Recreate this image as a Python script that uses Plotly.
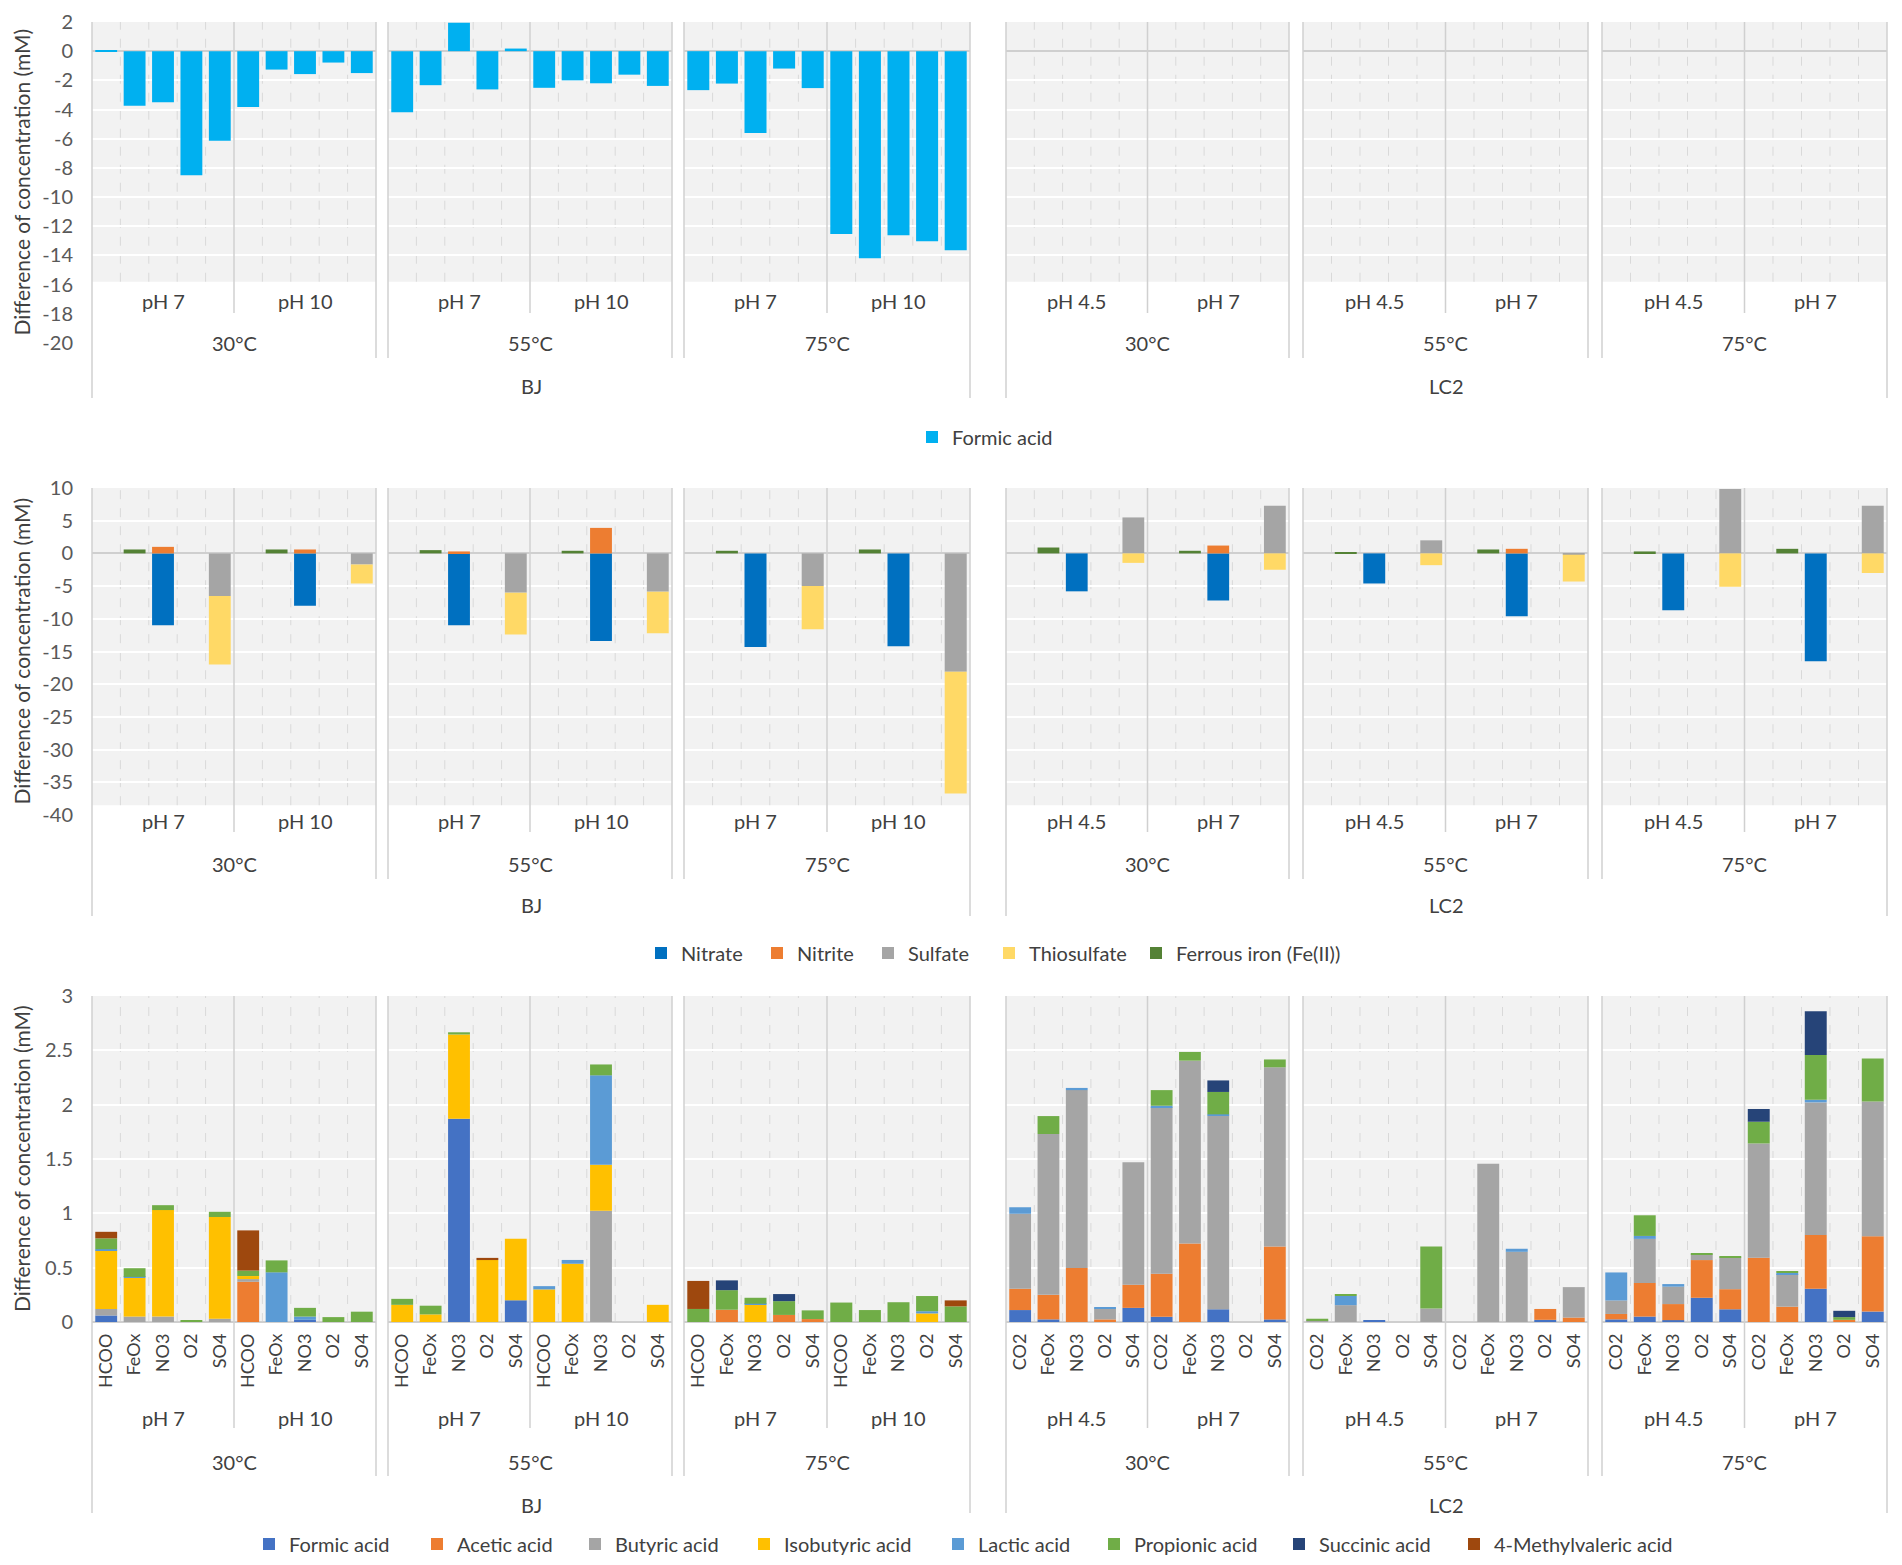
import plotly.graph_objects as go

W, H = 1902, 1565
FONT = "Lato"
TXT = "#404040"

temps = ["30°C", "55°C", "75°C"]
sites = ["BJ", "LC2"]
ph_levels = {"BJ": ["pH 7", "pH 10"], "LC2": ["pH 4.5", "pH 7"]}
treatments = {"BJ": ["HCOO", "FeOx", "NO3", "O2", "SO4"],
              "LC2": ["CO2", "FeOx", "NO3", "O2", "SO4"]}

top_ticks = [2, 0, -2, -4, -6, -8, -10, -12, -14, -16, -18, -20]
mid_ticks = [10, 5, 0, -5, -10, -15, -20, -25, -30, -35, -40]
bot_ticks = [0, 0.5, 1, 1.5, 2, 2.5, 3]

# each list: 30°C, 55°C, 75°C; inside each: 2 pH x 5 treatments
# --- top panel: formic acid
formic_top_BJ = [0.05, -3.74, -3.5, -8.5, -6.14, -3.83, -1.26, -1.57, -0.78, -1.5,
                 -4.19, -2.33, 1.95, -2.62, 0.18, -2.51, -2.0, -2.2, -1.61, -2.38,
                 -2.67, -2.22, -5.6, -1.19, -2.53, -12.53, -14.19, -12.62, -13.03, -13.65]
formic_top_LC2 = [None] * 30  # no formate measured for LC2

# --- middle panel: electron acceptors
nitrate_BJ = [None, None, -11.0, None, None, None, None, -8.0, None, None,
              None, None, -11.0, None, None, None, None, -13.4, None, None,
              None, None, -14.3, None, None, None, None, -14.2, None, None]
nitrite_BJ = [None, None, 1.0, None, None, None, None, 0.6, None, None,
              None, None, 0.3, None, None, None, None, 3.9, None, None,
              None, None, None, None, None, None, None, None, None, None]
sulfate_BJ = [None, None, None, None, -6.5, None, None, None, None, -1.7,
              None, None, None, None, -6.0, None, None, None, None, -5.85,
              None, None, None, None, -5.0, None, None, None, None, -18.1]
thiosulfate_BJ = [None, None, None, None, -10.5, None, None, None, None, -2.9,
                  None, None, None, None, -6.4, None, None, None, None, -6.35,
                  None, None, None, None, -6.6, None, None, None, None, -18.6]
ferrous_BJ = [None, 0.6, None, None, None, None, 0.6, None, None, None,
              None, 0.5, None, None, None, None, 0.4, None, None, None,
              None, 0.4, None, None, None, None, 0.6, None, None, None]

nitrate_LC2 = [None, None, -5.8, None, None, None, None, -7.2, None, None,
               None, None, -4.6, None, None, None, None, -9.6, None, None,
               None, None, -8.7, None, None, None, None, -16.5, None, None]
nitrite_LC2 = [None, None, None, None, None, None, None, 1.2, None, None,
               None, None, None, None, None, None, None, 0.7, None, None,
               None, None, None, None, None, None, None, None, None, None]
sulfate_LC2 = [None, None, None, None, 5.5, None, None, None, None, 7.3,
               None, None, None, None, 2.0, None, None, None, None, -0.2,
               None, None, None, None, 9.85, None, None, None, None, 7.3]
thiosulfate_LC2 = [None, None, None, None, -1.45, None, None, None, None, -2.5,
                   None, None, None, None, -1.8, None, None, None, None, -4.1,
                   None, None, None, None, -5.1, None, None, None, None, -3.0]
ferrous_LC2 = [None, 0.9, None, None, None, None, 0.4, None, None, None,
               None, 0.2, None, None, None, None, 0.6, None, None, None,
               None, 0.3, None, None, None, None, 0.7, None, None, None]

# --- bottom panel: organic acids produced
formic_BJ = [0.06, 0, 0, 0, 0, 0, 0, 0.02, 0, 0,
             0, 0, 1.87, 0, 0.20, 0, 0, 0, 0, 0,
             0, 0, 0, 0, 0, 0, 0, 0, 0, 0]
acetic_BJ = [0, 0, 0, 0, 0, 0.37, 0, 0, 0, 0,
             0, 0, 0, 0, 0, 0, 0, 0, 0, 0,
             0, 0.113, 0, 0.065, 0.027, 0, 0, 0, 0, 0]
butyric_BJ = [0.06, 0.05, 0.05, 0, 0.03, 0.025, 0, 0, 0, 0,
              0, 0, 0, 0, 0, 0, 0, 1.024, 0, 0,
              0, 0, 0, 0, 0, 0, 0, 0, 0, 0]
isobutyric_BJ = [0.54, 0.355, 0.98, 0, 0.936, 0.028, 0, 0, 0, 0,
                 0.158, 0.07, 0.776, 0.57, 0.566, 0.30, 0.536, 0.423, 0, 0.158,
                 0, 0, 0.158, 0, 0, 0, 0, 0, 0.079, 0]
lactic_BJ = [0.01, 0.01, 0, 0, 0, 0, 0.457, 0.03, 0, 0,
             0, 0, 0, 0, 0, 0.03, 0.035, 0.823, 0, 0,
             0, 0, 0.01, 0, 0, 0, 0, 0, 0.02, 0]
propionic_BJ = [0.10, 0.08, 0.045, 0.015, 0.048, 0.05, 0.11, 0.08, 0.045, 0.095,
                0.055, 0.08, 0.02, 0, 0, 0, 0, 0.10, 0, 0,
                0.12, 0.18, 0.055, 0.127, 0.08, 0.179, 0.11, 0.182, 0.14, 0.144]
succinic_BJ = [0, 0, 0, 0, 0, 0, 0, 0, 0, 0,
               0, 0, 0, 0, 0, 0, 0, 0, 0, 0,
               0, 0.09, 0, 0.065, 0, 0, 0, 0, 0, 0]
methylvaleric_BJ = [0.06, 0, 0, 0, 0, 0.37, 0, 0, 0, 0,
                    0, 0, 0, 0.02, 0, 0, 0, 0, 0, 0,
                    0.258, 0, 0, 0, 0, 0, 0, 0, 0, 0.055]

formic_LC2 = [0.11, 0.024, 0, 0, 0.13, 0.048, 0, 0.117, 0, 0.024,
              0, 0, 0.01, 0, 0, 0, 0, 0, 0.02, 0,
              0.024, 0.05, 0.017, 0.223, 0.117, 0, 0, 0.306, 0, 0.096]
acetic_LC2 = [0.196, 0.226, 0.498, 0.024, 0.213, 0.395, 0.722, 0, 0, 0.67,
              0, 0, 0, 0, 0, 0, 0, 0, 0.10, 0.041,
              0.05, 0.31, 0.148, 0.347, 0.185, 0.591, 0.141, 0.495, 0.02, 0.694]
butyric_LC2 = [0.69, 1.48, 1.636, 0.10, 1.127, 1.533, 1.683, 1.78, 0, 1.65,
               0.01, 0.155, 0, 0, 0.124, 0, 1.457, 0.646, 0, 0.28,
               0.124, 0.405, 0.16, 0.052, 0.292, 1.052, 0.30, 1.22, 0, 1.24]
isobutyric_LC2 = [0, 0, 0, 0, 0, 0, 0, 0, 0, 0,
                  0, 0, 0, 0, 0, 0, 0, 0, 0, 0,
                  0, 0, 0, 0, 0, 0, 0, 0, 0, 0]
lactic_LC2 = [0.06, 0, 0.02, 0.01, 0, 0.014, 0, 0.014, 0, 0,
              0, 0.085, 0, 0, 0, 0, 0, 0.028, 0, 0,
              0.258, 0.027, 0.024, 0, 0, 0, 0.01, 0.024, 0, 0]
propionic_LC2 = [0, 0.165, 0, 0, 0, 0.144, 0.08, 0.206, 0, 0.072,
                 0.02, 0.01, 0, 0, 0.57, 0, 0, 0, 0, 0,
                 0, 0.19, 0, 0.01, 0.005, 0.20, 0.014, 0.412, 0.025, 0.395]
succinic_LC2 = [0, 0, 0, 0, 0, 0, 0, 0.106, 0, 0,
                0, 0, 0, 0, 0, 0, 0, 0, 0, 0,
                0, 0, 0, 0, 0, 0.117, 0, 0.402, 0.058, 0]
methylvaleric_LC2 = [0, 0, 0, 0, 0, 0, 0, 0, 0, 0,
                     0, 0, 0, 0, 0, 0, 0, 0, 0, 0,
                     0, 0, 0, 0, 0, 0, 0, 0, 0, 0]

row_series = [
    [("Formic acid", "#00B0F0", {"BJ": formic_top_BJ, "LC2": formic_top_LC2})],
    [("Nitrate", "#0070C0", {"BJ": nitrate_BJ, "LC2": nitrate_LC2}),
     ("Nitrite", "#ED7D31", {"BJ": nitrite_BJ, "LC2": nitrite_LC2}),
     ("Sulfate", "#A5A5A5", {"BJ": sulfate_BJ, "LC2": sulfate_LC2}),
     ("Thiosulfate", "#FFD966", {"BJ": thiosulfate_BJ, "LC2": thiosulfate_LC2}),
     ("Ferrous iron (Fe(II))", "#548235", {"BJ": ferrous_BJ, "LC2": ferrous_LC2})],
    [("Formic acid", "#4472C4", {"BJ": formic_BJ, "LC2": formic_LC2}),
     ("Acetic acid", "#ED7D31", {"BJ": acetic_BJ, "LC2": acetic_LC2}),
     ("Butyric acid", "#A5A5A5", {"BJ": butyric_BJ, "LC2": butyric_LC2}),
     ("Isobutyric acid", "#FFC000", {"BJ": isobutyric_BJ, "LC2": isobutyric_LC2}),
     ("Lactic acid", "#5B9BD5", {"BJ": lactic_BJ, "LC2": lactic_LC2}),
     ("Propionic acid", "#70AD47", {"BJ": propionic_BJ, "LC2": propionic_LC2}),
     ("Succinic acid", "#264478", {"BJ": succinic_BJ, "LC2": succinic_LC2}),
     ("4-Methylvaleric acid", "#9E480E", {"BJ": methylvaleric_BJ, "LC2": methylvaleric_LC2})],
]

# pixel geometry of the three panels (target image pixels)
row_geo = [
    dict(top=22, bottom=343, rng=[-20, 2], gray0=-15.8, ticks=top_ticks,
         ph=301, temp=343, site=386, ph_end=313, edge_end=358, site_end=398,
         legend_y=437, legend_x=[930]),
    dict(top=488, bottom=815, rng=[-40, 10], gray0=-38.5, ticks=mid_ticks,
         ph=821, temp=864, site=905, ph_end=832, edge_end=879, site_end=916,
         legend_y=953, legend_x=[659, 775, 886, 1007, 1154]),
    dict(top=996, bottom=1322, rng=[0, 3], gray0=0, ticks=bot_ticks,
         ph=1418, temp=1462, site=1505, ph_end=1428, edge_end=1476, site_end=1513,
         legend_y=1544, legend_x=[267, 435, 593, 762, 956, 1112, 1297, 1472]),
]
group_x = [(92, 376), (388, 672), (684, 970), (1006, 1289), (1303, 1588), (1602, 1887)]
PAGE = 8  # body margin of the html page


def fx(p):
    return (p - PAGE) / W


def fy(p):
    return 1 - (p - PAGE) / H


def label(x, y, text, size=20, angle=0):
    return dict(x=fx(x), y=fy(y), xref="paper", yref="paper", text=text,
                showarrow=False, xanchor="center", yanchor="middle", textangle=angle,
                font=dict(size=size, color=TXT, family=FONT))


fig = go.Figure()
shapes = []
annotations = []
legends = {}
line_col = "#d0d0d0"
leg_count = 0

for r, (geo, series) in enumerate(zip(row_geo, row_series)):
    yname = "y" if r == 0 else f"y{r + 1}"
    legnames = []
    for i, lx in enumerate(geo["legend_x"]):
        leg_count += 1
        lname = "legend" if leg_count == 1 else f"legend{leg_count}"
        legnames.append(lname)
        legends[lname] = dict(orientation="h", x=fx(lx - 18), y=fy(geo["legend_y"]),
                              xanchor="left", yanchor="middle", itemwidth=30,
                              bgcolor="rgba(0,0,0,0)", borderwidth=0,
                              font=dict(size=20, color=TXT, family=FONT))
    for g in range(6):
        n = r * 6 + g + 1
        xname = "x" if n == 1 else f"x{n}"
        site = sites[g // 3]
        t = g % 3
        cats = [f"{p} {c}" for p in ph_levels[site] for c in treatments[site]]
        for k, (name, color, data) in enumerate(series):
            vals = data[site][t * 10:(t + 1) * 10]
            fig.add_trace(go.Bar(
                x=cats, y=vals, name=name, marker_color=color, marker_line_width=0,
                xaxis=xname, yaxis=yname, legend=legnames[k], legendgroup=f"{r}-{name}",
                showlegend=(g == 0), hoverinfo="skip"))

        x0, x1 = group_x[g]
        fig.update_layout(**{("xaxis" if n == 1 else f"xaxis{n}"): dict(
            domain=[fx(x0), fx(x1)], anchor=yname, type="category",
            categoryorder="array", categoryarray=cats, range=[-0.5, 9.5],
            showgrid=False, zeroline=False, showline=False, ticks="", automargin=False,
            showticklabels=(r == 2), tickvals=cats, ticktext=treatments[site] * 2,
            tickangle=-90, ticklabelstandoff=7,
            tickfont=dict(size=18, color=TXT, family=FONT))})

        dom = "x domain" if n == 1 else f"x{n} domain"
        shapes.append(dict(type="rect", xref=dom, yref=yname, x0=0, x1=1,
                           y0=geo["gray0"], y1=geo["rng"][1], fillcolor="#f2f2f2",
                           line_width=0, layer="below"))
        for k in [1, 2, 3, 4, 6, 7, 8, 9]:
            shapes.append(dict(type="line", xref=dom, yref=yname, x0=k / 10, x1=k / 10,
                               y0=geo["gray0"], y1=geo["rng"][1], layer="below",
                               line=dict(color="#d9d9d9", width=1, dash="dash")))
        xc = (x0 + x1) / 2
        shapes.append(dict(type="line", xref="paper", yref="paper", x0=fx(xc), x1=fx(xc),
                           y0=fy(geo["top"]), y1=fy(geo["ph_end"]),
                           line=dict(color=line_col, width=1.5)))
        for xe, outer in [(x0, g in (0, 3)), (x1, g in (2, 5))]:
            yend = geo["site_end"] if outer else geo["edge_end"]
            shapes.append(dict(type="line", xref="paper", yref="paper", x0=fx(xe), x1=fx(xe),
                               y0=fy(geo["top"]), y1=fy(yend),
                               line=dict(color=line_col, width=1.5)))
        for q, ph in zip([0.25, 0.75], ph_levels[site]):
            annotations.append(label(x0 + (x1 - x0) * q, geo["ph"], ph))
        annotations.append(label(xc, geo["temp"], temps[t]))

    for s, site in enumerate(sites):
        xs = (group_x[s * 3][0] + group_x[s * 3 + 2][1]) / 2
        annotations.append(label(xs, geo["site"], site))
    annotations.append(label(21, (geo["top"] + geo["bottom"]) / 2,
                             "Difference of concentration (mM)", size=21, angle=-90))

    fig.update_layout(**{("yaxis" if r == 0 else f"yaxis{r + 1}"): dict(
        domain=[fy(geo["bottom"]), fy(geo["top"])], anchor=("x" if r == 0 else f"x{r * 6 + 1}"),
        range=geo["rng"], tickvals=geo["ticks"], ticktext=[str(v) for v in geo["ticks"]],
        showgrid=True, gridcolor="white", gridwidth=2, automargin=False,
        zeroline=True, zerolinecolor="#cfcfcf", zerolinewidth=1.5,
        showline=False, ticks="", ticklabelstandoff=18, ticklabeloverflow="allow",
        tickfont=dict(size=20, color="#595959", family=FONT))})

fig.update_layout(**legends)
fig.update_layout(
    width=W, height=H, margin=dict(l=0, r=0, t=0, b=0, pad=0, autoexpand=False),
    barmode="relative", bargap=0.23,
    plot_bgcolor="rgba(0,0,0,0)", paper_bgcolor="white",
    font=dict(family=FONT, color=TXT),
    shapes=shapes, annotations=annotations,
)

fig.write_html("out.html")
